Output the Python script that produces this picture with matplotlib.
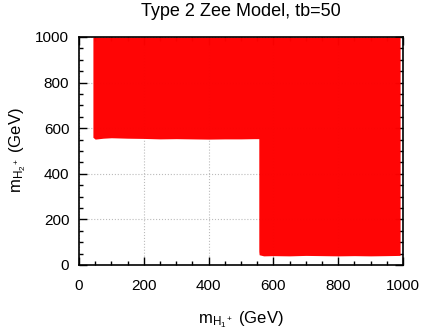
import matplotlib
matplotlib.use("Agg")
import matplotlib.pyplot as plt
from matplotlib.ticker import MultipleLocator

plt.rcParams['font.family'] = ['Liberation Sans', 'DejaVu Sans']
plt.rcParams['mathtext.fontset'] = 'custom'
plt.rcParams['mathtext.rm'] = 'Liberation Sans'
plt.rcParams['mathtext.it'] = 'Liberation Sans'

# lower edge of the allowed scan points (upper-left block)
left_x = [43, 50, 75, 100, 150, 200, 250, 300, 350, 400, 450, 500, 540, 555]
left_ymin = [560, 552, 556, 558, 556, 555, 553, 554, 553, 552, 553, 553, 554, 554]
# lower edge of the right block
right_x = [555, 556, 570, 600, 650, 700, 750, 800, 850, 900, 950, 991]
right_ymin = [60, 45, 40, 41, 40, 42, 41, 40, 41, 40, 41, 42]
ymax = 1000

edge_x = left_x + right_x
edge_y = left_ymin + right_ymin

fig = plt.figure(figsize=(4.26, 3.3), dpi=100)
ax = fig.add_axes([0.1854, 0.197, 0.7606, 0.691])

ax.fill_between(edge_x, edge_y, ymax, color='#ff0000', linewidth=0, alpha=0.98, zorder=3)

ax.set_xlim(0, 1000)
ax.set_ylim(0, 1000)
ax.xaxis.set_major_locator(MultipleLocator(200))
ax.yaxis.set_major_locator(MultipleLocator(200))
ax.xaxis.set_minor_locator(MultipleLocator(50))
ax.yaxis.set_minor_locator(MultipleLocator(50))
ax.tick_params(which='both', direction='in', top=True, right=True, labelsize=11, width=1)
ax.tick_params(which='major', length=6)
ax.tick_params(which='minor', length=3)
ax.tick_params(axis='x', pad=10)
ax.tick_params(axis='y', pad=7)
ax.grid(True, which='major', linestyle=':', color='#bbbbbb', linewidth=0.8, zorder=1)
for s in ax.spines.values():
    s.set_linewidth(1.2)
    s.set_zorder(5)

fig.text(241 / 426, 1 - 12 / 330, 'Type 2 Zee Model, tb=50', ha='center', va='center', fontsize=13)
ax.set_xlabel(r'm$_{\mathregular{H_1}^+}$ (GeV)', fontsize=12, va='center', ha='center')
ax.set_ylabel(r'm$_{\mathregular{H_2}^+}$ (GeV)', fontsize=12, va='center', ha='center')
ax.xaxis.set_label_coords(0.5, -0.238)
ax.yaxis.set_label_coords(-0.19, 0.504)

fig.savefig('out.png', dpi=100)
